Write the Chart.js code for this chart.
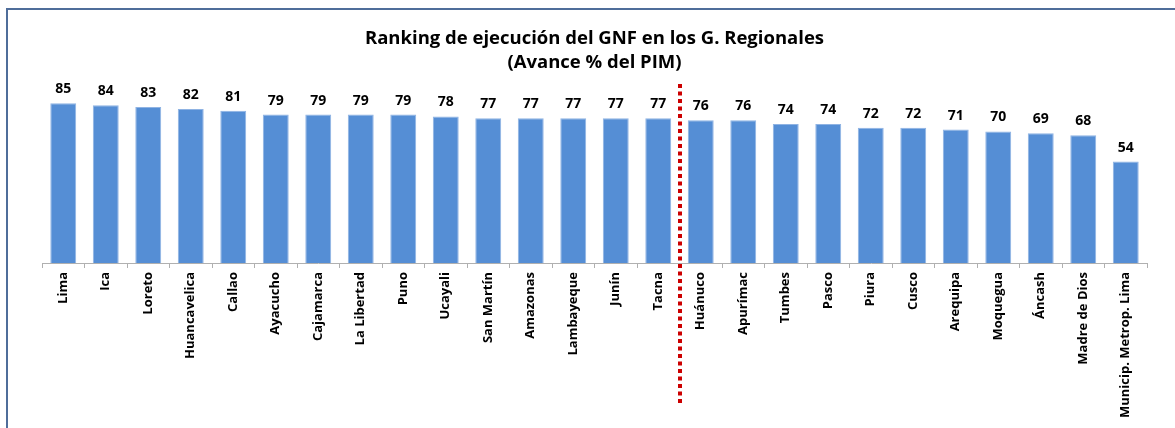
<!DOCTYPE html>
<html>
<head>
<meta charset="utf-8">
<script src="https://cdn.jsdelivr.net/npm/chart.js@4.4.1/dist/chart.umd.min.js"></script>
<style>
  html, body { margin: 0; padding: 0; background: #ffffff; overflow: hidden; }
  #frame {
    position: absolute; left: 6px; top: 8px;
    width: 1200px; height: 440px;
    border: 2px solid #4f6d9a;
  }
  #Chart1 { position: absolute; left: 0; top: 0; }
</style>
</head>
<body>
<div id="frame"></div>
<canvas id="Chart1" width="1175" height="428"></canvas>
<script>
// categories and values (% de avance del PIM)
var regiones = ['Lima', 'Ica', 'Loreto', 'Huancavelica', 'Callao', 'Ayacucho', 'Cajamarca',
    'La Libertad', 'Puno', 'Ucayali', 'San Martín', 'Amazonas', 'Lambayeque', 'Junín', 'Tacna',
    'Huánuco', 'Apurímac', 'Tumbes', 'Pasco', 'Piura', 'Cusco', 'Arequipa', 'Moquegua', 'Áncash',
    'Madre de Dios', 'Municip. Metrop. Lima'];
var avance = [85, 84, 83, 82, 81, 79, 79, 79, 79, 78, 77, 77, 77, 77, 77,
    76, 76, 74, 74, 72, 72, 71, 70, 69, 68, 54];
var tituloLineas = ['Ranking de ejecución del GNF en los G. Regionales', '(Avance % del PIM)'];
var indiceCorte = 14; // red dotted line after Tacna

var FONT = "'Open Sans', sans-serif";

//value labels above the bars + red dotted divider
var extras = {
    id: 'extras',
    afterDatasetsDraw: function(chart) {
        var ctx = chart.ctx;
        var meta = chart.getDatasetMeta(0);
        ctx.save();
        ctx.fillStyle = '#000000';
        ctx.font = 'bold 14px ' + FONT;
        ctx.textAlign = 'center';
        ctx.textBaseline = 'bottom';
        meta.data.forEach(function(bar, i) {
            ctx.fillText(avance[i], bar.x, bar.y - 7);
        });

        var xs = chart.scales.x;
        var xc = (xs.getPixelForValue(indiceCorte) + xs.getPixelForValue(indiceCorte + 1)) / 2;
        ctx.strokeStyle = '#cc0000';
        ctx.lineWidth = 4;
        ctx.setLineDash([4, 3.5]);
        ctx.beginPath();
        ctx.moveTo(Math.round(xc), chart.chartArea.top + 9);
        ctx.lineTo(Math.round(xc), chart.chartArea.bottom + 140);
        ctx.stroke();
        ctx.restore();
    }
};

var ctx = document.getElementById('Chart1').getContext('2d');
var myChart = new Chart(ctx, {
    type: 'bar',
    data: {
        labels: regiones,
        datasets: [{
            data: avance,
            backgroundColor: '#558ed5',
            borderColor: '#8fb3e3',
            borderWidth: 1,
            barPercentage: 0.61,
            categoryPercentage: 1
        }]
    },
    options: {
        responsive: false,
        animation: false,
        layout: {
            padding: { left: 42, right: 28, top: 27, bottom: 0 }
        },
        scales: {
            y: {
                display: false,
                min: 0,
                max: 100
            },
            x: {
                offset: true,
                border: { display: true, color: '#b0b0b0', width: 1 },
                grid: {
                    offset: true,
                    drawOnChartArea: false,
                    drawTicks: true,
                    tickLength: 5,
                    color: '#b0b0b0'
                },
                ticks: {
                    minRotation: 90,
                    maxRotation: 90,
                    autoSkip: false,
                    padding: 4,
                    color: '#000000',
                    font: { family: FONT, size: 13, weight: 'bold' }
                },
                afterFit: function(scale) { scale.height = 165; }
            }
        },
        plugins: {
            legend: { display: false },
            tooltip: { enabled: false },
            title: {
                display: true,
                text: tituloLineas,
                color: '#000000',
                padding: { top: 0, bottom: 0 },
                font: { family: FONT, size: 18.5, weight: 'bold', lineHeight: 1.3 }
            }
        }
    },
    plugins: [extras]
});
</script>
</body>
</html>
